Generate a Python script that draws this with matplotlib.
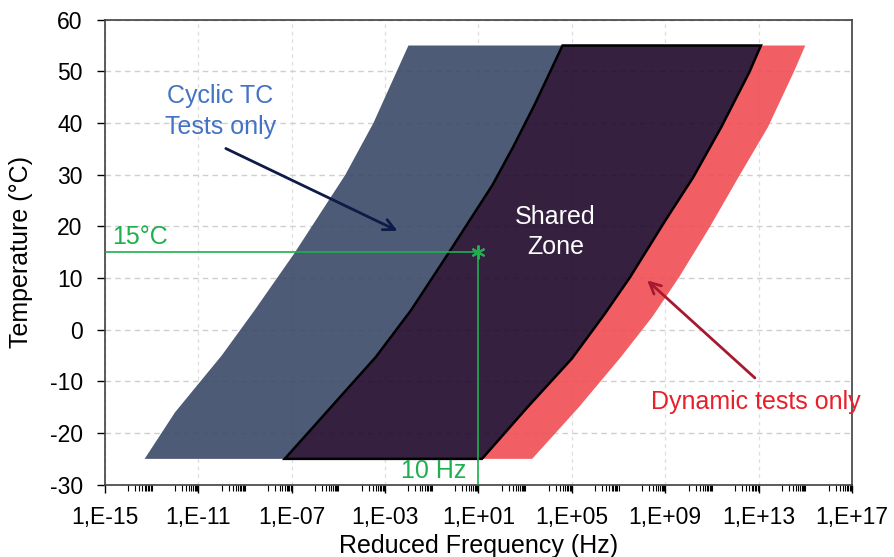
import numpy as np
import matplotlib
matplotlib.use("Agg")
import matplotlib.pyplot as plt
from matplotlib.ticker import FixedLocator, FuncFormatter

plt.rcParams['font.family'] = ['Liberation Sans', 'DejaVu Sans']
plt.rcParams['axes.unicode_minus'] = False

# boundaries: log10(frequency) and temperature
blue_left_logf = [-13.3, -12.0, -10.0, -8.6, -6.9, -4.7, -3.5, -2.6, -2.0]
blue_left_temp = [-25, -16, -5, 3.7, 14.7, 30, 40, 49, 55]
shared_left_logf = [-7.3, -3.4, -1.9, -0.3, 1.6, 2.5, 3.4, 4.6]
shared_left_temp = [-25, -5.3, 3.7, 14.7, 28.0, 35.5, 43.5, 55]
shared_right_logf = [1.15, 3.1, 5.0, 6.4, 7.5, 9.0, 10.2, 11.4, 12.6, 13.1]
shared_right_temp = [-25, -15, -5.6, 3, 10.2, 21.1, 29.5, 39.2, 49.8, 55]
red_right_logf = [3.3, 5.3, 7.1, 8.45, 9.6, 10.9, 12.2, 13.4, 14.5, 15.0]
red_right_temp = [-25, -15, -5.3, 2.5, 10.2, 19.8, 30, 39.2, 49.8, 55]

ref_freq = 10.0
ref_temp = 15.0

x_major_exp = list(range(-15, 18, 4))
y_ticks = list(range(-30, 61, 10))


def poly(left_f, left_t, right_f, right_t):
    xs = list(left_f) + list(right_f)[::-1]
    ys = list(left_t) + list(right_t)[::-1]
    return 10.0 ** np.array(xs), np.array(ys)


fig = plt.figure(figsize=(8.94, 5.57), dpi=100)
ax = fig.add_axes([0.1174, 0.1298, 0.8356, 0.8349])
ax.set_xscale('log')
ax.set_xlim(1e-15, 1e17)
ax.set_ylim(-30, 60)

# grid under the zones
ax.set_axisbelow(True)
ax.yaxis.grid(True, color='#cfcfcf', linestyle=(0, (4, 3)), linewidth=1.0)
ax.xaxis.grid(True, which='major', color='#dedede', linestyle=(0, (3, 3)), linewidth=0.9)

bx, by = poly(blue_left_logf, blue_left_temp, shared_left_logf, shared_left_temp)
ax.fill(bx, by, color='#3b4968', alpha=0.9, lw=0, zorder=2)
rx, ry = poly(shared_right_logf, shared_right_temp, red_right_logf, red_right_temp)
ax.fill(rx, ry, color='#f04d53', alpha=0.9, lw=0, zorder=2)
sx, sy = poly(shared_left_logf, shared_left_temp, shared_right_logf, shared_right_temp)
ax.fill(sx, sy, facecolor='#20072b', alpha=0.9, lw=0, zorder=3)
ax.fill(sx, sy, facecolor='none', edgecolor='black', lw=1.8, zorder=4)

# 15 degC / 10 Hz reference
green = '#1faf4f'
ax.plot([1e-15, ref_freq], [ref_temp, ref_temp], color=green, lw=1.2, zorder=5)
ax.plot([ref_freq, ref_freq], [ref_temp, -30], color=green, lw=1.2, zorder=5)
ax.plot([ref_freq], [ref_temp], marker=(6, 2, 0), color=green, ms=10, mew=1.5, zorder=6)
ax.text(10 ** -14.7, 15.6, '15°C', color=green, fontsize=18, ha='left', va='bottom', zorder=6)
ax.text(10 ** 0.5, -27.3, '10 Hz', color=green, fontsize=18, ha='right', va='center', zorder=6)

# labels and arrows
ax.text(10 ** -10.06, 42.2, 'Cyclic TC\nTests only', color='#4472c4', fontsize=18,
        ha='center', va='center', linespacing=1.35, zorder=6)
ax.annotate('', xy=(10 ** -2.36, 18.9), xytext=(10 ** -9.93, 35.3),
            arrowprops=dict(arrowstyle='->', color='#0e1a47', lw=2, mutation_scale=20), zorder=6)
ax.text(10 ** 4.29, 18.9, 'Shared\nZone', color='white', fontsize=18,
        ha='center', va='center', linespacing=1.35, zorder=6)
ax.text(10 ** 12.87, -13.9, 'Dynamic tests only', color='#e8202a', fontsize=18,
        ha='center', va='center', zorder=6)
ax.annotate('', xy=(10 ** 8.14, 9.9), xytext=(10 ** 12.93, -9.7),
            arrowprops=dict(arrowstyle='->', color='#a6192e', lw=2, mutation_scale=20), zorder=6)

# ticks
ax.xaxis.set_major_locator(FixedLocator([10.0 ** e for e in x_major_exp]))
ax.xaxis.set_major_formatter(FuncFormatter(lambda v, p: '1,E%+03d' % int(round(np.log10(v)))))
minor = [m * 10.0 ** e for e in range(-14, 17, 2) for m in range(1, 11)]
ax.xaxis.set_minor_locator(FixedLocator(minor))
ax.xaxis.set_minor_formatter(FuncFormatter(lambda v, p: ''))
ax.set_yticks(y_ticks)

ax.tick_params(axis='both', which='major', direction='out', length=6, width=1,
               labelsize=16.5, colors='black')
ax.tick_params(axis='x', which='major', pad=9)
ax.tick_params(axis='y', which='major', pad=10)
ax.tick_params(axis='x', which='minor', direction='out', length=4, width=0.8)
for s in ax.spines.values():
    s.set_color('#404040')
    s.set_linewidth(1.2)

ax.set_xlabel('Reduced Frequency (Hz)', fontsize=18, labelpad=4)
ax.set_ylabel('Temperature (°C)', fontsize=18, labelpad=12)

fig.savefig('out.png', dpi=100)
